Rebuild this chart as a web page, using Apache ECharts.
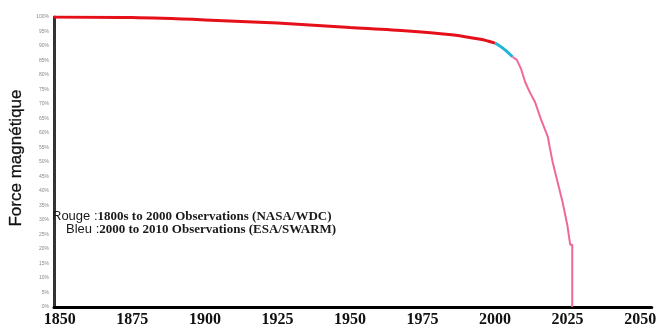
<!DOCTYPE html>
<html>
<head>
<meta charset="utf-8">
<script src="https://cdn.jsdelivr.net/npm/echarts@6/dist/echarts.min.js"></script>
<style>html,body{margin:0;padding:0;background:#fff;}#c{width:659px;height:328px;}</style>
</head>
<body>
<div id="c"></div>
<script>
// Data
const redYears  = [1848, 1875, 1900, 1925, 1950, 1970, 1985, 1995, 2000];
const redVals   = [100, 99.8, 99.0, 97.9, 96.4, 95.2, 93.9, 92.3, 91.0];
const blueYears = [2000, 2003, 2006];
const blueVals  = [91.0, 89.0, 86.3];
const pinkYears = [2006, 2007.5, 2009, 2010.4, 2012, 2013.8, 2015.8, 2018.2, 2018.8, 2019.8, 2021.5, 2023.2, 2024.9, 2025.9, 2026.6, 2026.6];
const pinkVals  = [86.3, 85.2, 82.0, 77.5, 74.0, 70.6, 64.8, 58.7, 55.3, 50.2, 43.3, 36.5, 28.3, 21.5, 21.5, 0];
const xTickYears = [1850, 1875, 1900, 1925, 1950, 1975, 2000, 2025, 2050];
const yAxisName = 'Force magnétique';
const noteRouge = ['Rouge :', '1800s to 2000 Observations (NASA/WDC)'];
const noteBleu  = ['Bleu :', '2000 to 2010 Observations (ESA/SWARM)'];

const zip = (a, b) => a.map((v, i) => [v, b[i]]);

const rich = {
  a: {fontFamily: 'Liberation Sans', fontSize: 13, fill: '#1a1a1a'},
  b: {fontFamily: 'Liberation Serif', fontWeight: 'bold', fontSize: 13, fill: '#1a1a1a'}
};

const chart = echarts.init(document.getElementById('c'), null, {renderer: 'canvas'});
chart.setOption({
  animation: false,
  backgroundColor: '#fff',
  grid: {left: 47, right: 3, top: 17, bottom: 18, containLabel: false},
  xAxis: {
    type: 'value', min: 1848, max: 2054, interval: 1,
    axisLine: {show: true, lineStyle: {color: '#000', width: 3}},
    axisTick: {show: false},
    splitLine: {show: false},
    axisLabel: {
      margin: 5,
      formatter: v => xTickYears.includes(v) ? String(v) : '',
      fontFamily: 'Liberation Serif', fontWeight: 'bold', fontSize: 16, color: '#111'
    }
  },
  yAxis: {
    type: 'value', min: 0, max: 100, interval: 5,
    name: yAxisName, nameLocation: 'middle', nameGap: 14, nameRotate: 90,
    nameTextStyle: {fontFamily: 'Liberation Sans', fontSize: 17, color: '#111', padding: [0, 0, 0, 8],
      textBorderColor: '#111', textBorderWidth: 0.3},
    axisLine: {show: true, lineStyle: {color: '#333', width: 3}},
    axisTick: {show: false},
    splitLine: {show: false},
    axisLabel: {margin: 5, formatter: '{value}%', fontSize: 5, color: '#888', fontFamily: 'Liberation Sans'}
  },
  series: [
    {type: 'line', data: zip(redYears, redVals), showSymbol: false, smooth: 0.3,
     lineStyle: {color: '#e5101a', width: 3}, z: 3},
    {type: 'line', data: zip(blueYears, blueVals), showSymbol: false, smooth: 0.3,
     lineStyle: {color: '#1eb6d6', width: 3}, z: 3},
    {type: 'line', data: zip(pinkYears, pinkVals), showSymbol: false,
     lineStyle: {color: '#f0679c', width: 2}, z: 3}
  ],
  graphic: [
    {type: 'text', left: 52, top: 210, z: 10,
     style: {text: '{a|' + noteRouge[0] + '}{b|' + noteRouge[1] + '}', rich: rich}},
    {type: 'text', left: 66, top: 223, z: 10,
     style: {text: '{a|' + noteBleu[0] + '}{b|' + noteBleu[1] + '}', rich: rich}}
  ]
});
</script>
</body>
</html>
